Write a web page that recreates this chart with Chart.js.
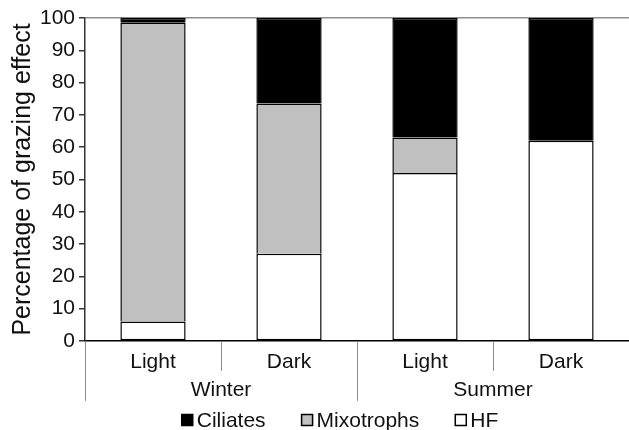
<!DOCTYPE html>
<html>
<head>
<meta charset="utf-8">
<script src="https://cdn.jsdelivr.net/npm/chart.js@4.4.1/dist/chart.umd.min.js"></script>
<style>
  html, body { margin: 0; padding: 0; background: #fff; }
  #wrap { width: 629px; height: 430px; position: relative; }
</style>
</head>
<body>
<div id="wrap"><canvas id="chart"></canvas></div>
<script>
const conditions = ['Light', 'Dark', 'Light', 'Dark'];
const seasons = ['Winter', 'Summer'];
const hf = [6, 27, 52, 62];
const mixotrophs = [92.5, 46.5, 11, null];
const ciliates = [1.5, 26.5, 37, 38];

const FONT = '"Liberation Sans", Arial, Helvetica, sans-serif';
const TEXT = '#111';

// season groups under the category labels, plus the legend row
const groupAxis = {
  id: 'groupAxis',
  afterDraw(chart) {
    const { ctx, scales: { x } } = chart;
    const perGroup = conditions.length / seasons.length;
    const half = (x.getPixelForValue(1) - x.getPixelForValue(0)) / 2;
    ctx.save();
    ctx.strokeStyle = '#8c8c8c';
    ctx.lineWidth = 1;
    for (let i = 0; i < conditions.length; i++) {
      const bx = Math.round(x.getPixelForValue(i) - half) + 0.5;
      const isGroupEdge = i % perGroup === 0;
      ctx.beginPath();
      ctx.moveTo(bx, x.top);
      ctx.lineTo(bx, x.top + (isGroupEdge ? 60 : 30));
      ctx.stroke();
    }
    ctx.fillStyle = TEXT;
    ctx.font = '21px ' + FONT;
    ctx.textAlign = 'center';
    ctx.textBaseline = 'middle';
    seasons.forEach((season, g) => {
      const first = x.getPixelForValue(g * perGroup);
      const last = x.getPixelForValue(g * perGroup + perGroup - 1);
      ctx.fillText(season, (first + last) / 2, x.top + 49);
    });

    // legend
    const items = chart.data.datasets.slice().reverse();
    const box = 11, gap = 4, spacing = 36;
    ctx.textAlign = 'left';
    const widths = items.map(ds => box + gap + ctx.measureText(ds.label).width);
    const total = widths.reduce((a, b) => a + b, 0) + spacing * (items.length - 1);
    let lx = 340 - total / 2;
    const ly = 420;
    items.forEach((ds, i) => {
      ctx.fillStyle = ds.backgroundColor;
      ctx.fillRect(lx, ly - box / 2, box, box);
      ctx.strokeStyle = '#000';
      ctx.lineWidth = 1.5;
      ctx.strokeRect(lx, ly - box / 2, box, box);
      ctx.fillStyle = TEXT;
      ctx.fillText(ds.label, lx + box + gap, ly + 1);
      lx += widths[i] + spacing;
    });
    ctx.restore();
  }
};

const barStyle = {
  borderColor: '#000',
  borderWidth: 1.5,
  barPercentage: 0.48,
  categoryPercentage: 1,
};

new Chart(document.getElementById('chart'), {
  type: 'bar',
  data: {
    labels: conditions,
    datasets: [
      { label: 'HF', data: hf, backgroundColor: '#ffffff', ...barStyle, borderSkipped: false },
      { label: 'Mixotrophs', data: mixotrophs, backgroundColor: '#c0c0c0', ...barStyle, borderSkipped: 'start' },
      { label: 'Ciliates', data: ciliates, backgroundColor: '#000000', ...barStyle, borderSkipped: 'start' },
    ],
  },
  options: {
    responsive: true,
    maintainAspectRatio: false,
    animation: false,
    layout: { padding: { top: 18, right: 0, bottom: 0, left: 0 } },
    plugins: {
      legend: { display: false },
      tooltip: { enabled: false },
    },
    scales: {
      x: {
        stacked: true,
        grid: { display: false },
        border: { color: '#000', width: 1.5 },
        ticks: { color: TEXT, font: { family: FONT, size: 21 }, padding: 1 },
        afterFit(scale) { scale.height = 89; },
      },
      y: {
        stacked: true,
        min: 0,
        max: 100,
        ticks: { stepSize: 10, color: TEXT, font: { family: FONT, size: 21 }, padding: 4 },
        grid: {
          drawOnChartArea: true,
          color: ctx => (ctx.tick && ctx.tick.value === 100 ? '#8c8c8c' : 'rgba(0,0,0,0)'),
          tickColor: '#333',
          tickLength: 6,
          lineWidth: 1.5,
        },
        border: { color: '#333', width: 1.5 },
        title: {
          display: true,
          text: 'Percentage of grazing effect',
          color: TEXT,
          font: { family: FONT, size: 25 },
          padding: { top: 8, bottom: 0 },
        },
        afterFit(scale) { scale.width = 85; },
      },
    },
  },
  plugins: [groupAxis],
});
</script>
</body>
</html>
